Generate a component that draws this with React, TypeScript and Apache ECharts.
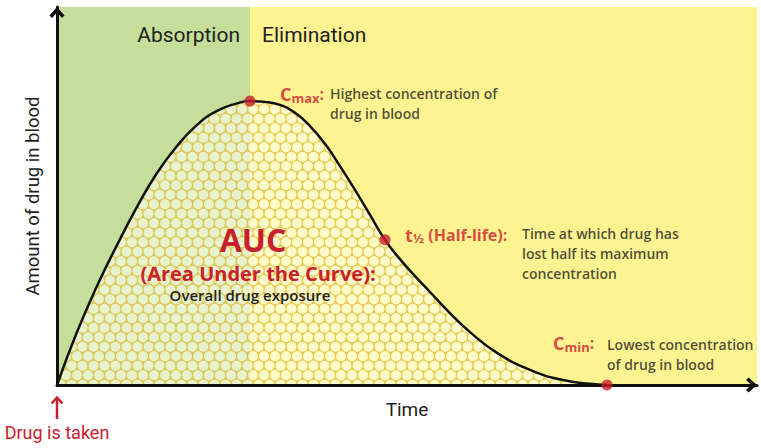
import React, { useEffect, useRef } from 'react';
import * as echarts from 'echarts';

// Concentration-time curve (arbitrary units)
const curveX = [0, 2.0, 4.0, 6.0, 8.0, 10.0, 12.0, 14.0, 16.0, 18.0, 19.3, 20.8, 22.3, 23.8, 25.3, 26.8, 28.3, 29.8, 31.3, 32.8, 34.3, 35.8, 37.3, 39.0, 41.3, 44.0, 47.3, 50.6, 53.3, 55.0];
const curveY = [0, 14.0, 26.2, 37.0, 47.1, 56.1, 63.2, 68.8, 72.5, 74.5, 75.1, 74.9, 74.1, 72.0, 68.5, 63.8, 57.9, 51.6, 45.0, 38.4, 33.3, 28.8, 24.6, 19.8, 14.0, 8.5, 4.0, 1.3, 0.3, 0];

// Key points: Cmax, t1/2, Cmin
const keyX = [19.3, 32.8, 55.0];
const keyY = [75.1, 38.4, 0];
const keyPrefixes = ['{c|C}{s|max}{k|:}', '{c|t}{s|½}{k| (Half-life):}', '{c|C}{s|min}{k|:}'];
const keyNotes = [
  'Highest concentration of\ndrug in blood',
  'Time at which drug has\nlost half its maximum\nconcentration',
  'Lowest concentration\nof drug in blood',
];

// Phases
const phaseNames = ['Absorption', 'Elimination'];
const phaseBounds = [0, 19.3, 70];

const xMax = 70;
const yMax = 100;

const RED = '#c8202e';
const DARK = '#222222';
const GREEN = '#c5df9b';
const YELLOW = '#fdf390';
const NARROW = 'Roboto, "Liberation Sans", sans-serif';
const SANS = '"Open Sans", "Noto Sans", sans-serif';

function makePattern() {
  const w = 11;
  const h = 19;
  const cv = document.createElement('canvas');
  cv.width = w;
  cv.height = h;
  const ctx = cv.getContext('2d')!;
  ctx.fillStyle = 'rgba(226,196,78,0.85)';
  ctx.fillRect(0, 0, w, h);
  const centers = [
    [5.5, 4.75],
    [0, 14.25],
    [11, 14.25],
    [0, -4.75],
    [11, -4.75],
    [5.5, 23.75],
  ];
  const r = 4.9;
  ctx.globalCompositeOperation = 'destination-out';
  ctx.fillStyle = '#000';
  centers.forEach(([cx, cy]) => {
    ctx.beginPath();
    ctx.arc(cx, cy, r, 0, Math.PI * 2);
    ctx.fill();
  });
  ctx.globalCompositeOperation = 'source-over';
  ctx.fillStyle = 'rgba(255,255,238,0.6)';
  centers.forEach(([cx, cy]) => {
    ctx.beginPath();
    ctx.arc(cx, cy, r, 0, Math.PI * 2);
    ctx.fill();
  });
  return { image: cv, repeat: 'repeat', imageWidth: w, imageHeight: h };
}

const chevron = 'path://M5,0 L10,5.6 L8.3,7.3 L5,3.6 L1.7,7.3 L0,5.6 Z';

export default function App() {
  const ref = useRef<HTMLDivElement>(null);

  useEffect(() => {
    document.body.style.margin = '0';
    if (!ref.current) return;
    const chart = echarts.init(ref.current, undefined, { renderer: 'svg' });

    const prefixOffsets = [[30, -7], [20, -5], [-54, -42]];
    const noteOffsets = [[80, 2.5], [137, 14], [0, -31]];

    const richPrefix = {
      c: { fontSize: 18, fontWeight: 'bold', color: RED, fontFamily: SANS, lineHeight: 20 },
      s: { fontSize: 13, fontWeight: 'bold', color: RED, fontFamily: SANS, lineHeight: 12, verticalAlign: 'bottom' },
      k: { fontSize: 16, fontWeight: 'bold', color: RED, fontFamily: SANS, lineHeight: 20 },
    };

    const axisLine = (end: number) => ({
      show: true,
      symbol: ['none', chevron],
      symbolSize: [16, 11],
      symbolOffset: [0, end],
      lineStyle: { color: '#111', width: 3 },
    });

    chart.setOption({
      animation: false,
      grid: { left: 57, right: 4, top: 7, bottom: 63 },
      xAxis: {
        type: 'value',
        min: 0,
        max: xMax,
        z: 10,
        name: 'Time',
        nameLocation: 'middle',
        nameGap: 15,
        nameTextStyle: { fontSize: 19, fontFamily: NARROW, color: DARK },
        axisLine: axisLine(-5.5),
        axisTick: { show: false },
        axisLabel: { show: false },
        splitLine: { show: false },
      },
      yAxis: {
        type: 'value',
        min: 0,
        max: yMax,
        z: 10,
        name: 'Amount of drug in blood',
        nameLocation: 'middle',
        nameGap: 15,
        nameTextStyle: { fontSize: 18.5, fontFamily: NARROW, color: DARK },
        axisLine: axisLine(-5.5),
        axisTick: { show: false },
        axisLabel: { show: false },
        splitLine: { show: false },
      },
      series: [
        {
          type: 'line',
          z: 2,
          data: curveX.map((x, i) => [x, curveY[i]]),
          smooth: 0.5,
          showSymbol: false,
          lineStyle: { color: '#111', width: 2.5 },
          areaStyle: { color: makePattern(), opacity: 1 },
          markArea: {
            silent: true,
            z: 1,
            data: phaseNames.map((name, i) => [
              {
                name,
                xAxis: phaseBounds[i],
                itemStyle: { color: i === 0 ? GREEN : YELLOW, opacity: 1 },
                label: {
                  show: true,
                  position: i === 0 ? 'insideTopRight' : 'insideTopLeft',
                  distance: 0,
                  offset: i === 0 ? [-10, 17] : [12, 17],
                  fontSize: 21,
                  fontFamily: NARROW,
                  color: DARK,
                },
              },
              { xAxis: phaseBounds[i + 1] },
            ]),
          },
        },
        {
          type: 'scatter',
          z: 12,
          symbolSize: 2,
          itemStyle: { color: 'transparent' },
          silent: true,
          data: keyX.map((x, i) => ({
            value: [x, keyY[i]],
            label: {
              show: true,
              position: [prefixOffsets[i][0] + 1, prefixOffsets[i][1] + 1],
              align: 'left',
              verticalAlign: 'middle',
              formatter: keyPrefixes[i],
              rich: richPrefix,
            },
          })),
        },
        {
          type: 'scatter',
          z: 12,
          symbolSize: 2,
          itemStyle: { color: 'transparent' },
          silent: true,
          data: keyX.map((x, i) => ({
            value: [x, keyY[i]],
            label: {
              show: true,
              position: [noteOffsets[i][0] + 1, noteOffsets[i][1] + 1],
              align: 'left',
              verticalAlign: 'middle',
              formatter: keyNotes[i],
              fontSize: 14,
              fontWeight: 600,
              fontFamily: SANS,
              color: DARK,
              lineHeight: 20,
            },
          })),
        },
        {
          type: 'scatter',
          z: 13,
          symbolSize: 11,
          itemStyle: { color: RED },
          data: keyX.map((x, i) => [x, keyY[i]]),
        },
      ],
      graphic: [
        {
          type: 'text',
          x: 253,
          y: 239,
          z: 20,
          style: { text: 'AUC', fill: RED, font: `bold 32px ${SANS}`, lineHeight: 34, align: 'center', verticalAlign: 'middle' },
        },
        {
          type: 'text',
          x: 258,
          y: 273,
          z: 20,
          style: { text: '(Area Under the Curve):', fill: RED, font: `bold 20px ${SANS}`, lineHeight: 20, align: 'center', verticalAlign: 'middle' },
        },
        {
          type: 'text',
          x: 250,
          y: 295,
          z: 20,
          style: { text: 'Overall drug exposure', fill: DARK, font: `600 15px ${SANS}`, lineHeight: 16, align: 'center', verticalAlign: 'middle' },
        },
        {
          type: 'text',
          x: 57,
          y: 432,
          z: 20,
          style: { text: 'Drug is taken', fill: RED, font: `18px ${NARROW}`, align: 'center', verticalAlign: 'middle' },
        },
        {
          type: 'line',
          z: 20,
          shape: { x1: 57, y1: 419, x2: 57, y2: 398 },
          style: { stroke: RED, lineWidth: 2.5 },
        },
        {
          type: 'polyline',
          z: 20,
          shape: { points: [[51.5, 403.5], [57, 397.5], [62.5, 403.5]] },
          style: { stroke: RED, lineWidth: 2.5, fill: 'none' },
        },
      ],
    });

    return () => chart.dispose();
  }, []);

  return <div ref={ref} style={{ width: 761, height: 448 }} />;
}
